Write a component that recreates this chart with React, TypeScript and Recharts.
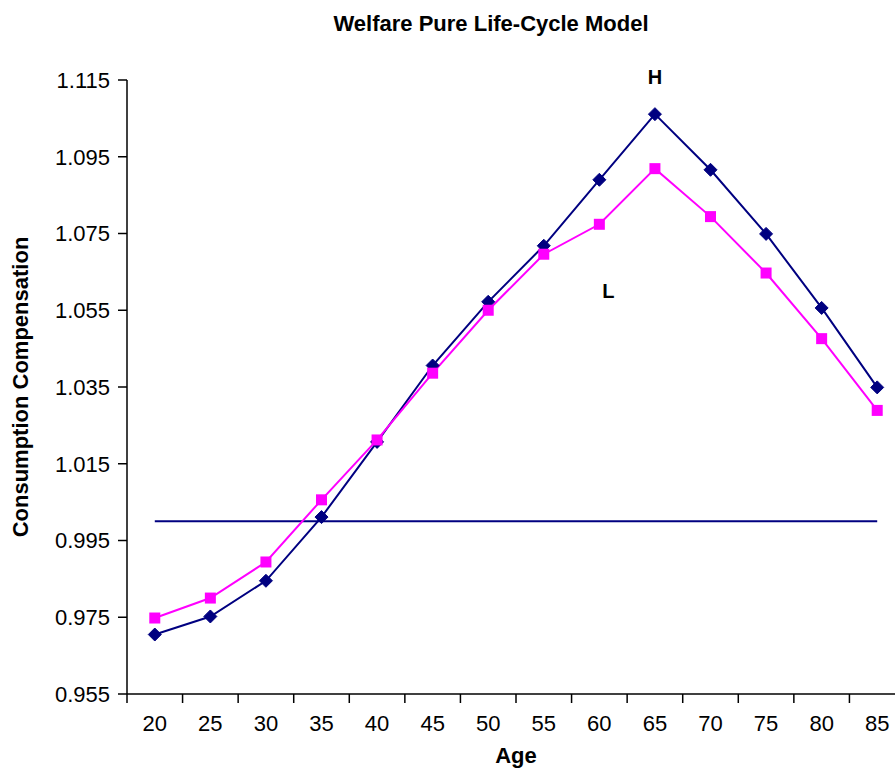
import { Line, LineChart, ReferenceDot, XAxis, YAxis } from "recharts";

const ages = [20, 25, 30, 35, 40, 45, 50, 55, 60, 65, 70, 75, 80, 85];
const highSeries = [0.9705, 0.9752, 0.9845, 1.0011, 1.0207, 1.0406, 1.0572, 1.0718, 1.089, 1.1061, 1.0916, 1.0749, 1.0556, 1.0349];
const lowSeries = [0.9748, 0.98, 0.9894, 1.0056, 1.0212, 1.0386, 1.055, 1.0696, 1.0774, 1.0919, 1.0794, 1.0647, 1.0476, 1.0289];
const parity = [1, 1, 1, 1, 1, 1, 1, 1, 1, 1, 1, 1, 1, 1];

const yTicks = [0.955, 0.975, 0.995, 1.015, 1.035, 1.055, 1.075, 1.095, 1.115];
// tick marks sit between the age categories, labels in the middle
const boundaryTicks = [17.5, 22.5, 27.5, 32.5, 37.5, 42.5, 47.5, 52.5, 57.5, 62.5, 67.5, 72.5, 77.5, 82.5, 87.5];

const tags = [
  { name: "H", age: 65, value: 1.1158 },
  { name: "L", age: 60.8, value: 1.06 },
];

const data = ages.map((age, i) => ({
  age,
  high: highSeries[i],
  low: lowSeries[i],
  parity: parity[i],
}));

const FONT = "'Liberation Sans', Arial, sans-serif";
const NAVY = "#000080";
const MAGENTA = "#ff00ff";

function Diamond(props: any) {
  const { cx, cy } = props;
  if (cx == null || cy == null) return null;
  const r = 6.5;
  return <polygon points={`${cx},${cy - r} ${cx + r},${cy} ${cx},${cy + r} ${cx - r},${cy}`} fill={NAVY} stroke={NAVY} />;
}

function Square(props: any) {
  const { cx, cy } = props;
  if (cx == null || cy == null) return null;
  const s = 11;
  return <rect x={cx - s / 2} y={cy - s / 2} width={s} height={s} fill={MAGENTA} />;
}

export default function App() {
  return (
    <div style={{ position: "fixed", left: 0, top: 0, width: 895, height: 769, overflow: "hidden", background: "#fff", fontFamily: FONT }}>
      <div
        style={{
          position: "absolute",
          left: 291,
          top: 13,
          width: 400,
          textAlign: "center",
          fontWeight: "bold",
          fontSize: 22,
          lineHeight: "22px",
        }}
      >
        Welfare Pure Life-Cycle Model
      </div>
      <LineChart width={920} height={769} data={data} margin={{ top: 80, right: 15, left: 0, bottom: 0 }}>
        <XAxis
          xAxisId="bounds"
          type="number"
          dataKey="age"
          domain={[17.5, 87.5]}
          ticks={boundaryTicks}
          tick={() => <g />}
          height={1}
          tickSize={9}
          stroke="#000"
          strokeWidth={1.5}
          allowDataOverflow
        />
        <XAxis
          xAxisId="labels"
          type="number"
          dataKey="age"
          domain={[17.5, 87.5]}
          ticks={ages}
          axisLine={false}
          tickLine={false}
          tickSize={9}
          tickMargin={11}
          height={74}
          tick={{ fill: "#000", fontSize: 22, fontFamily: FONT }}
          label={{ value: "Age", position: "insideBottom", offset: 6, fill: "#000", fontSize: 22, fontWeight: "bold", fontFamily: FONT }}
        />
        <YAxis
          type="number"
          domain={[0.955, 1.115]}
          ticks={yTicks}
          width={127}
          tickSize={9}
          tickMargin={8}
          stroke="#000"
          strokeWidth={1.5}
          tickFormatter={(v: number) => v.toFixed(3)}
          tick={{ fill: "#000", fontSize: 22, fontFamily: FONT }}
          label={{
            value: "Consumption Compensation",
            angle: -90,
            position: "insideLeft",
            offset: 20.5,
            style: { textAnchor: "middle" },
            fill: "#000",
            fontSize: 22,
            fontWeight: "bold",
            fontFamily: FONT,
          }}
        />
        <Line xAxisId="bounds" dataKey="parity" stroke={NAVY} strokeWidth={2} dot={false} isAnimationActive={false} />
        <Line xAxisId="bounds" dataKey="high" stroke={NAVY} strokeWidth={2} dot={<Diamond />} activeDot={false} isAnimationActive={false} />
        <Line xAxisId="bounds" dataKey="low" stroke={MAGENTA} strokeWidth={2} dot={<Square />} activeDot={false} isAnimationActive={false} />
        {tags.map((t) => (
          <ReferenceDot
            key={t.name}
            xAxisId="bounds"
            x={t.age}
            y={t.value}
            r={0}
            fill="none"
            stroke="none"
            ifOverflow="visible"
            label={{ value: t.name, position: "center", fill: "#000", fontSize: 20, fontWeight: "bold", fontFamily: FONT }}
          />
        ))}
      </LineChart>
    </div>
  );
}
